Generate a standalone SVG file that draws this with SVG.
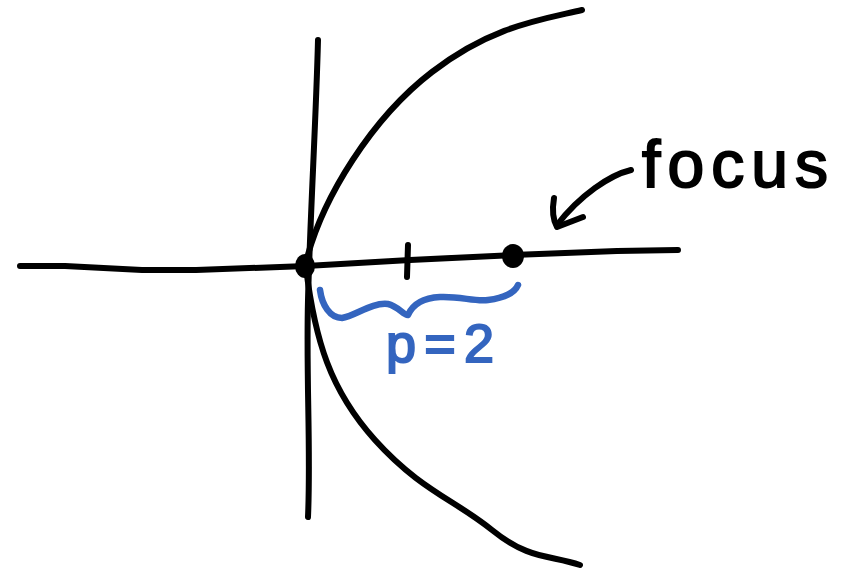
<svg xmlns="http://www.w3.org/2000/svg" width="846" height="571" viewBox="0 0 846 571">
<style>
.ink{fill:none;stroke:#000;stroke-width:6;stroke-linecap:round;stroke-linejoin:round}
.blue{fill:none;stroke:#3465bf;stroke-width:6.5;stroke-linecap:round;stroke-linejoin:round}
.lbl{font-family:"Liberation Sans","DejaVu Sans",sans-serif}
</style>
<rect width="846" height="571" fill="#fff"/>
<g id="axes">
<path class="ink" d="M20,266 L65,266 L142,270 L196,270 L306,266 L410,260 L513,255 L617,251 L678,250"/>
<path class="ink" d="M318,40 C316,120 310,220 308,300 S311,450 308,517"/>
<path class="ink" d="M408,245 L407,277"/>
</g>
<g id="parabola">
<path class="ink" d="M306,262 C322,198 372,118 432,72 S540,20 582,10"/>
<path class="ink" d="M306,268 C315,340 330,390 375,440 S455,500 492,530 S550,555 580,565"/>
</g>
<g id="vertex"><ellipse cx="305" cy="266" rx="10" ry="12" fill="#000"/></g>
<g id="focus-point"><ellipse cx="513" cy="256" rx="11" ry="12" fill="#000"/></g>
<g id="brace">
<path class="blue" d="M320,290 C322,305 330,318 342,318 C355,316 372,302 388,304 C398,306 404,316 408,315 C412,306 420,298 440,297 C460,296 475,302 488,300 C505,298 515,292 518,285"/>
</g>
<g id="label-p">
<text class="lbl" x="386" y="362" font-size="54" fill="#3465bf" stroke="#3465bf" stroke-width="2" textLength="108" lengthAdjust="spacing">p=2</text>
</g>
<g id="label-focus">
<text class="lbl" x="642" y="187" font-size="66" fill="#000" stroke="#000" stroke-width="2" textLength="186" lengthAdjust="spacing">focus</text>
</g>
<g id="connectors">
<path class="ink" d="M631,170 C610,175 580,195 557,225"/>
<path class="ink" d="M554,198 C552,210 553,220 557,227 L583,217"/>
</g>
</svg>
